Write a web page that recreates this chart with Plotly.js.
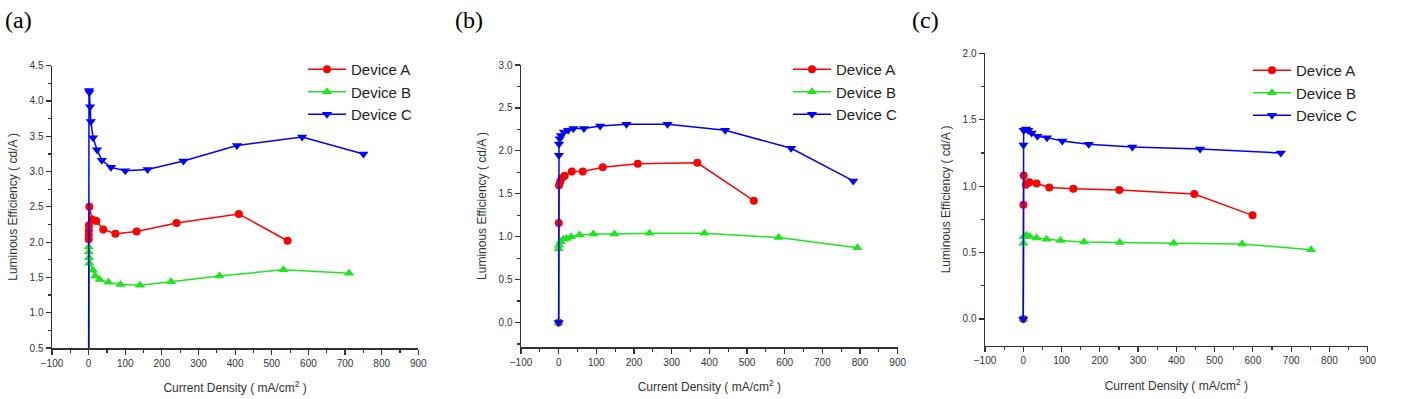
<!DOCTYPE html>
<html>
<head>
<meta charset="utf-8">
<script src="https://cdn.plot.ly/plotly-3.0.1.min.js"></script>
<style>html,body{margin:0;padding:0;background:#fff;}#chart{width:1405px;height:399px;}</style>
</head>
<body>
<div id="chart"></div>
<script>
// ---- Data ----
const seriesNames = ["Device A", "Device B", "Device C"];
const panelLabels = ["(a)", "(b)", "(c)"];
const xTitle = "Current Density ( mA/cm<sup>2</sup> )";
const yTitle = "Luminous Efficiency ( cd/A )";

// Panel (a)
const aDevAx = [0, 0.2, 0.4, 0.6, 0.8, 2, 10, 21, 40, 73, 131, 240, 410, 543];
const aDevAy = [0, 2.04, 2.10, 2.17, 2.24, 2.50, 2.32, 2.30, 2.18, 2.12, 2.15, 2.27, 2.40, 2.02];
const aDevBx = [0, 0.3, 0.6, 1, 2, 12, 18, 30, 54, 87, 140, 225, 357, 532, 711];
const aDevBy = [0, 1.93, 1.86, 1.78, 1.70, 1.60, 1.52, 1.47, 1.43, 1.40, 1.39, 1.44, 1.52, 1.61, 1.56];
const aDevCx = [0, 1, 2, 4, 6, 12, 23, 36, 61, 100, 161, 259, 405, 583, 750];
const aDevCy = [0, 4.15, 4.12, 3.92, 3.71, 3.48, 3.31, 3.16, 3.06, 3.01, 3.03, 3.15, 3.37, 3.49, 3.25];

// Panel (b)
const bDevAx = [0, 0.3, 1, 4, 8, 16, 35, 64, 117, 210, 368, 518];
const bDevAy = [0, 1.16, 1.60, 1.64, 1.68, 1.71, 1.76, 1.76, 1.81, 1.85, 1.86, 1.42];
const bDevBx = [0, 0.3, 1, 5, 12, 21, 33, 55, 92, 148, 241, 387, 584, 793];
const bDevBy = [0, 0.86, 0.90, 0.94, 0.97, 0.98, 1.00, 1.02, 1.03, 1.03, 1.04, 1.04, 0.99, 0.87];
const bDevCx = [0, 0.5, 1, 3, 6, 14, 25, 39, 67, 110, 180, 289, 442, 617, 782];
const bDevCy = [0, 1.95, 2.08, 2.14, 2.18, 2.22, 2.24, 2.26, 2.26, 2.29, 2.31, 2.31, 2.24, 2.03, 1.65];

// Panel (c)
const cDevAx = [0, 0.3, 1, 7, 16, 35, 68, 131, 251, 447, 599];
const cDevAy = [0, 0.86, 1.08, 1.01, 1.03, 1.02, 0.99, 0.98, 0.97, 0.94, 0.78];
const cDevBx = [0, 0.3, 1, 8, 17, 35, 61, 97, 159, 252, 393, 572, 752];
const cDevBy = [0, 0.57, 0.62, 0.63, 0.62, 0.61, 0.60, 0.59, 0.58, 0.575, 0.57, 0.565, 0.52];
const cDevCx = [0, 0.5, 1, 7, 13, 22, 37, 62, 102, 171, 285, 462, 673];
const cDevCy = [0, 1.31, 1.42, 1.43, 1.42, 1.40, 1.375, 1.365, 1.34, 1.315, 1.295, 1.28, 1.25];

// ---- Styles ----
const colors = ["#ff0000", "#1ee61e", "#0000ff"];
const symbols = ["circle", "triangle-up", "triangle-down"];
const msizes = [8, 9, 9];

const panels = [
  {xs: [aDevAx, aDevBx, aDevCx], ys: [aDevAy, aDevBy, aDevCy], yr: [0.5, 4.5],
   xd: [52/1405, 418.3/1405], yd: [51/399, 333.3/399], leg: {x: 303/1405, y: (399-53)/399}},
  {xs: [bDevAx, bDevBx, bDevCx], ys: [bDevAy, bDevBy, bDevCy], yr: [-0.285, 3.0],
   xd: [521/1405, 897.7/1405], yd: [52/399, 334/399], leg: {x: 788/1405, y: (399-53)/399}},
  {xs: [cDevAx, cDevBx, cDevCx], ys: [cDevAy, cDevBy, cDevCy], yr: [-0.2, 2.0],
   xd: [985/1405, 1367.7/1405], yd: [53.5/399, 345.7/399], leg: {x: 1248/1405, y: (399-54)/399}}
];

const data = [];
const layout = {
  width: 1405, height: 399,
  margin: {l: 0, r: 0, t: 0, b: 0},
  paper_bgcolor: "#ffffff", plot_bgcolor: "#ffffff",
  font: {family: "Liberation Sans, Arial, sans-serif", color: "#333"},
  showlegend: true,
  annotations: []
};

const labelX = [3, 453, 910];

panels.forEach((p, i) => {
  const n = i + 1;
  const xa = n === 1 ? "x" : "x" + n;
  const ya = n === 1 ? "y" : "y" + n;
  const legName = n === 1 ? "legend" : "legend" + n;
  for (let s = 0; s < 3; s++) {
    data.push({
      type: "scatter", mode: "lines+markers",
      name: seriesNames[s],
      x: p.xs[s], y: p.ys[s],
      xaxis: xa, yaxis: ya, legend: legName,
      line: {color: colors[s], width: 1.5},
      marker: {color: colors[s], symbol: symbols[s], size: msizes[s]}
    });
  }
  const axisCommon = {
    showline: true, linecolor: "#333", linewidth: 1.5,
    ticks: "outside", ticklen: 5, tickwidth: 1.2, tickcolor: "#333",
    showgrid: false, zeroline: false,
    tickfont: {size: 10, color: "#333"},
    mirror: false
  };
  layout["xaxis" + (n === 1 ? "" : n)] = Object.assign({}, axisCommon, {
    domain: p.xd, anchor: ya, range: [-100, 900], dtick: 100, tick0: 0,
    minor: {dtick: 50, ticks: "outside", ticklen: 3, tickcolor: "#333", tickwidth: 1.2},
    title: {text: xTitle, font: {size: 12, color: "#333"}, standoff: 16}
  });
  layout["yaxis" + (n === 1 ? "" : n)] = Object.assign({}, axisCommon, {
    domain: p.yd, anchor: xa, range: p.yr, dtick: 0.5, tick0: 0, tickformat: ".1f",
    minor: {dtick: 0.25, ticks: "outside", ticklen: 3, tickcolor: "#333", tickwidth: 1.2},
    title: {text: yTitle, font: {size: 12, color: "#333"}, standoff: 9}
  });
  layout[legName] = {
    x: p.leg.x, y: p.leg.y, xanchor: "left", yanchor: "top",
    bgcolor: "rgba(0,0,0,0)", borderwidth: 0,
    font: {size: 15, color: "#222"}, tracegroupgap: 0, itemwidth: 38
  };
  layout.annotations.push({
    text: panelLabels[i], xref: "paper", yref: "paper",
    x: labelX[i] / 1405, y: (399 - 20) / 399, xanchor: "left", yanchor: "middle",
    showarrow: false, font: {family: "Liberation Serif, Times New Roman, serif", size: 24, color: "#000"}
  });
});

Plotly.newPlot("chart", data, layout, {staticPlot: true, displayModeBar: false});
</script>
</body>
</html>
